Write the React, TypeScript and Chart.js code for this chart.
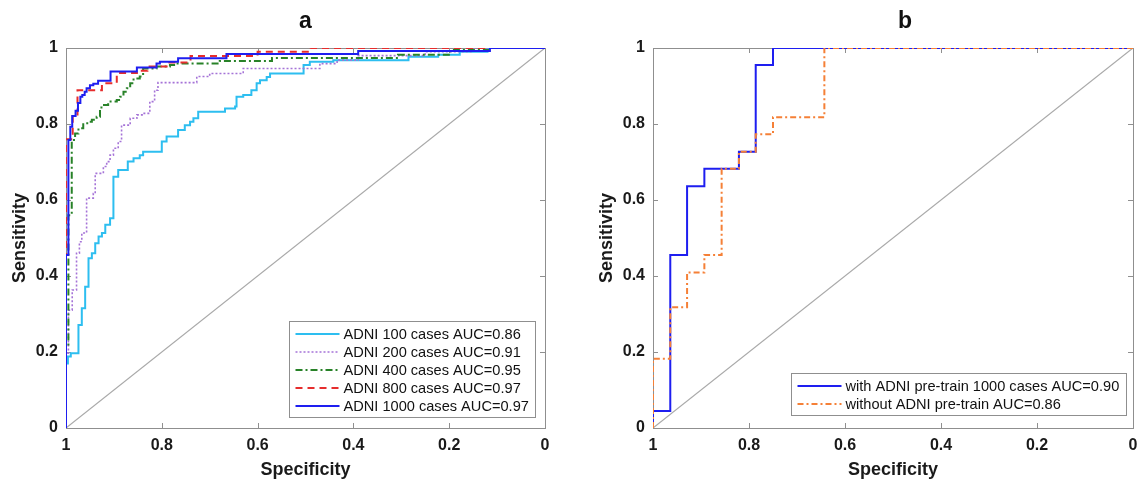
import React, { useEffect, useRef } from 'react';
import { Chart, registerables } from 'chart.js';

Chart.register(...registerables);

const FONT = '"Liberation Sans", Arial, Helvetica, sans-serif';

// ---- shared axis data ----
const tickValues = [0, 0.2, 0.4, 0.6, 0.8, 1];
const tickLabels = ['0', '0.2', '0.4', '0.6', '0.8', '1'];
const axisTitleX = 'Specificity';
const axisTitleY = 'Sensitivity';
const chanceSpec = [1, 0];
const chanceSens = [0, 1];

// ---- panel a ----
const titleA = 'a';
const adni100Spec = [1, 0.996, 0.99, 0.974, 0.967, 0.96, 0.953, 0.946, 0.939, 0.932, 0.925, 0.918, 0.908, 0.901, 0.891, 0.871, 0.859, 0.846, 0.839, 0.8, 0.79, 0.766, 0.752, 0.741, 0.734, 0.724, 0.668, 0.647, 0.644, 0.63, 0.613, 0.602, 0.595, 0.581, 0.574, 0.504, 0.491, 0.442, 0.285, 0.223, 0.178, 0.12, 0];
const adni100Sens = [0, 0.17, 0.188, 0.197, 0.271, 0.315, 0.372, 0.447, 0.46, 0.486, 0.504, 0.513, 0.535, 0.552, 0.661, 0.679, 0.701, 0.71, 0.718, 0.727, 0.754, 0.767, 0.784, 0.797, 0.806, 0.815, 0.832, 0.841, 0.846, 0.872, 0.876, 0.889, 0.907, 0.915, 0.924, 0.933, 0.955, 0.964, 0.968, 0.977, 0.982, 0.99, 1];

const adni200Spec = [1, 0.995, 0.987, 0.978, 0.972, 0.967, 0.957, 0.943, 0.939, 0.922, 0.915, 0.908, 0.901, 0.891, 0.884, 0.866, 0.852, 0.839, 0.825, 0.815, 0.808, 0.727, 0.7, 0.63, 0.47, 0.434, 0.39, 0.25, 0.15, 0];
const adni200Sens = [0, 0.197, 0.31, 0.363, 0.46, 0.49, 0.513, 0.605, 0.617, 0.67, 0.688, 0.701, 0.718, 0.736, 0.754, 0.797, 0.815, 0.824, 0.828, 0.859, 0.889, 0.909, 0.925, 0.933, 0.946, 0.959, 0.968, 0.98, 0.99, 1];

const adni400Spec = [1, 0.995, 0.988, 0.981, 0.974, 0.964, 0.953, 0.946, 0.936, 0.929, 0.926, 0.912, 0.894, 0.887, 0.88, 0.873, 0.866, 0.859, 0.846, 0.839, 0.811, 0.783, 0.772, 0.679, 0.57, 0.307, 0.198, 0.115, 0];
const adni400Sens = [0, 0.22, 0.56, 0.758, 0.775, 0.789, 0.802, 0.806, 0.811, 0.819, 0.837, 0.85, 0.859, 0.863, 0.872, 0.885, 0.894, 0.907, 0.92, 0.925, 0.946, 0.951, 0.955, 0.959, 0.966, 0.974, 0.982, 0.995, 1];

const adni800Spec = [1, 0.986, 0.976, 0.925, 0.894, 0.852, 0.83, 0.79, 0.74, 0.6, 0.49, 0];
const adni800Sens = [0, 0.76, 0.82, 0.889, 0.907, 0.934, 0.94, 0.951, 0.962, 0.979, 0.99, 1];

const adni1000Spec = [1, 0.995, 0.991, 0.987, 0.98, 0.975, 0.97, 0.966, 0.961, 0.957, 0.95, 0.943, 0.933, 0.907, 0.852, 0.811, 0.804, 0.766, 0.665, 0.39, 0.115, 0];
const adni1000Sens = [0, 0.455, 0.758, 0.793, 0.821, 0.835, 0.855, 0.872, 0.876, 0.885, 0.894, 0.902, 0.906, 0.914, 0.938, 0.949, 0.959, 0.964, 0.973, 0.984, 0.992, 1];

const labelsA = [
  'ADNI 100 cases AUC=0.86',
  'ADNI 200 cases AUC=0.91',
  'ADNI 400 cases AUC=0.95',
  'ADNI 800 cases AUC=0.97',
  'ADNI 1000 cases AUC=0.97',
];

// ---- panel b ----
const titleB = 'b';
const withPretrainSpec = [1, 0.964, 0.929, 0.893, 0.821, 0.786, 0.75, 0];
const withPretrainSens = [0, 0.045, 0.455, 0.636, 0.682, 0.727, 0.955, 1];
const withoutPretrainSpec = [1, 0.964, 0.929, 0.893, 0.857, 0.821, 0.786, 0.75, 0.643, 0];
const withoutPretrainSens = [0, 0.182, 0.318, 0.409, 0.455, 0.682, 0.727, 0.773, 0.818, 1];
const labelsB = [
  'with ADNI pre-train 1000 cases AUC=0.90',
  'without ADNI pre-train AUC=0.86',
];

type Series = {
  label: string;
  spec: number[];
  sens: number[];
  color: string;
  dash: number[];
  width: number;
  order: number;
};

const seriesA: Series[] = [
  { label: labelsA[0], spec: adni100Spec, sens: adni100Sens, color: 'rgb(45,190,240)', dash: [], width: 2, order: 4 },
  { label: labelsA[1], spec: adni200Spec, sens: adni200Sens, color: 'rgb(165,115,215)', dash: [2, 2], width: 1.6, order: 3 },
  { label: labelsA[2], spec: adni400Spec, sens: adni400Sens, color: 'rgb(40,130,40)', dash: [7, 3, 2, 3], width: 2, order: 2 },
  { label: labelsA[3], spec: adni800Spec, sens: adni800Sens, color: 'rgb(230,45,45)', dash: [7, 5], width: 2, order: 1 },
  { label: labelsA[4], spec: adni1000Spec, sens: adni1000Sens, color: 'rgb(30,30,240)', dash: [], width: 2, order: 0 },
];

const seriesB: Series[] = [
  { label: labelsB[0], spec: withPretrainSpec, sens: withPretrainSens, color: 'rgb(30,30,240)', dash: [], width: 2, order: 1 },
  { label: labelsB[1], spec: withoutPretrainSpec, sens: withoutPretrainSens, color: 'rgb(245,128,55)', dash: [6, 3, 2, 3], width: 2, order: 0 },
];

const toPoints = (xs: number[], ys: number[]) => xs.map((x, i) => ({ x, y: ys[i] }));

const framePlugin = {
  id: 'matlabFrame',
  beforeDatasetsDraw(chart: any) {
    const { ctx, chartArea } = chart;
    const { left, right, top, bottom } = chartArea;
    const xs = chart.scales.x;
    const ys = chart.scales.y;
    ctx.save();
    ctx.strokeStyle = '#8f8f8f';
    ctx.lineWidth = 1;
    ctx.setLineDash([]);
    ctx.strokeRect(left + 0.5, top + 0.5, right - left, bottom - top);
    ctx.beginPath();
    tickValues.forEach((v) => {
      const xp = Math.round(xs.getPixelForValue(v)) + 0.5;
      ctx.moveTo(xp, bottom);
      ctx.lineTo(xp, bottom - 5);
      ctx.moveTo(xp, top);
      ctx.lineTo(xp, top + 5);
      const yp = Math.round(ys.getPixelForValue(v)) + 0.5;
      ctx.moveTo(left, yp);
      ctx.lineTo(left + 5, yp);
      ctx.moveTo(right, yp);
      ctx.lineTo(right - 5, yp);
    });
    ctx.stroke();
    ctx.restore();
  },
};

const titlePlugin = {
  id: 'panelTitle',
  afterDraw(chart: any, _args: any, opts: any) {
    const { ctx, chartArea } = chart;
    ctx.save();
    ctx.font = `bold 23px ${FONT}`;
    ctx.fillStyle = '#111';
    ctx.textAlign = 'center';
    ctx.textBaseline = 'middle';
    ctx.fillText(opts.text, (chartArea.left + chartArea.right) / 2 + (opts.dx || 0), 22);
    ctx.restore();
  },
};

const boxLegendPlugin = {
  id: 'boxLegend',
  afterDatasetsDraw(chart: any, _args: any, opts: any) {
    const items: Series[] = opts.items || [];
    const { ctx, chartArea } = chart;
    ctx.save();
    ctx.font = `14.6px ${FONT}`;
    const textW = Math.max(...items.map((it) => ctx.measureText(it.label).width));
    const rowH = 18;
    const lineLen = 44;
    const padL = 6;
    const gap = 4;
    const padR = 7;
    const w = Math.round(padL + lineLen + gap + textW + padR);
    const h = items.length * rowH + 6;
    const x0 = Math.round(chartArea.right - opts.offsetRight - w) + 0.5;
    const y0 = Math.round(chartArea.bottom - opts.offsetBottom - h) + 0.5;
    ctx.fillStyle = '#ffffff';
    ctx.fillRect(x0, y0, w, h);
    ctx.strokeStyle = '#8f8f8f';
    ctx.lineWidth = 1;
    ctx.setLineDash([]);
    ctx.strokeRect(x0, y0, w, h);
    items.forEach((it, i) => {
      const cy = Math.round(y0 + 3 + rowH * (i + 0.5));
      ctx.strokeStyle = it.color;
      ctx.lineWidth = it.width;
      ctx.setLineDash(it.dash);
      ctx.beginPath();
      ctx.moveTo(x0 + padL, cy);
      ctx.lineTo(x0 + padL + lineLen, cy);
      ctx.stroke();
      ctx.setLineDash([]);
      ctx.fillStyle = '#111';
      ctx.textAlign = 'left';
      ctx.textBaseline = 'middle';
      ctx.fillText(it.label, x0 + padL + lineLen + gap, cy + 1);
    });
    ctx.restore();
  },
};

function makeConfig(series: Series[], title: string, titleDx: number, padRight: number, legendOffsetRight: number, legendOffsetBottom: number): any {
  const tickFont = { family: FONT, size: 16, weight: 'bold' as const };
  const axisFont = { family: FONT, size: 18, weight: 'bold' as const, lineHeight: 1 };
  const datasets: any[] = series.map((s) => ({
    label: s.label,
    data: toPoints(s.spec, s.sens),
    borderColor: s.color,
    backgroundColor: s.color,
    borderWidth: s.width,
    borderDash: s.dash,
    pointRadius: 0,
    pointHoverRadius: 0,
    stepped: 'after',
    fill: false,
    tension: 0,
    order: s.order,
  }));
  datasets.push({
    label: 'chance',
    data: toPoints(chanceSpec, chanceSens),
    borderColor: '#a9a9a9',
    borderWidth: 1.2,
    pointRadius: 0,
    fill: false,
    order: 10,
  });
  const axisCommon = (isX: boolean) => ({
    type: 'linear',
    min: 0,
    max: 1,
    reverse: isX,
    afterBuildTicks: (scale: any) => {
      scale.ticks = tickValues.map((v) => ({ value: v }));
    },
    ticks: {
      callback: (v: number) => {
        const i = tickValues.indexOf(v);
        return i >= 0 ? tickLabels[i] : '';
      },
      font: tickFont,
      color: '#1a1a1a',
      padding: 8,
      maxRotation: 0,
      autoSkip: false,
    },
    grid: { display: false, drawTicks: false },
    border: { display: false },
    title: {
      display: true,
      text: isX ? axisTitleX : axisTitleY,
      font: axisFont,
      color: '#1a1a1a',
      padding: isX ? { top: 0, bottom: 0 } : { top: 11, bottom: 0 },
    },
    afterFit: (scale: any) => {
      if (isX) scale.height = 51;
      else scale.width = 66;
    },
  });
  return {
    type: 'line',
    data: { datasets },
    options: {
      responsive: false,
      maintainAspectRatio: false,
      animation: false,
      devicePixelRatio: 1,
      parsing: true,
      layout: { padding: { left: 0, right: padRight, top: 48, bottom: 0 } },
      scales: { x: axisCommon(true), y: axisCommon(false) },
      plugins: {
        legend: { display: false },
        tooltip: { enabled: false },
        title: { display: false },
        panelTitle: { text: title, dx: titleDx },
        boxLegend: { items: series, offsetRight: legendOffsetRight, offsetBottom: legendOffsetBottom },
      },
    },
    plugins: [framePlugin, titlePlugin, boxLegendPlugin],
  };
}

function Panel({ left, width, build }: { left: number; width: number; build: () => any }) {
  const ref = useRef<HTMLCanvasElement | null>(null);
  useEffect(() => {
    if (!ref.current) return;
    const chart = new Chart(ref.current, build());
    return () => chart.destroy();
  }, []);
  return (
    <div style={{ position: 'absolute', left, top: 0, width, height: 479 }}>
      <canvas ref={ref} width={width} height={479} style={{ display: 'block', width, height: 479 }} />
    </div>
  );
}

export default function App() {
  return (
    <div style={{ position: 'absolute', left: 0, top: 0, width: 1142, height: 479, background: '#fff', overflow: 'hidden' }}>
      <Panel left={0} width={571} build={() => makeConfig(seriesA, titleA, 0, 26, 10, 11)} />
      <Panel left={587} width={555} build={() => makeConfig(seriesB, titleB, 12, 9, 7, 13)} />
    </div>
  );
}
